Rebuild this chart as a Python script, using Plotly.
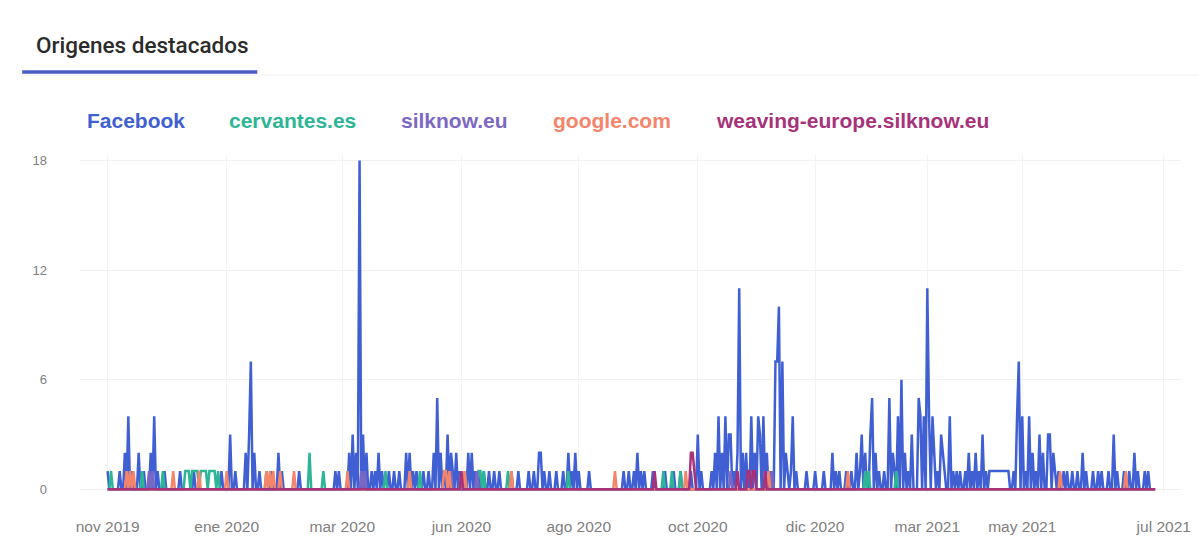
import pandas as pd
import plotly.graph_objects as go

# ---------------- data ----------------
start_date = "2019-11-01"
end_date = "2021-06-30"

series_names = ["Facebook", "cervantes.es", "silknow.eu", "google.com", "weaving-europe.silknow.eu"]
series_colors = ["#3f5fd3", "#2db596", "#7b68c4", "#f4846a", "#a8327a"]

# non-zero days of each series (all other days are 0)
facebook_points = [
    ("2019-11-01", 1), ("2019-11-08", 1), ("2019-11-11", 2), ("2019-11-13", 4), ("2019-11-15", 1),
    ("2019-11-19", 2), ("2019-11-22", 1), ("2019-11-26", 2), ("2019-11-28", 4), ("2019-11-30", 1),
    ("2019-12-04", 1), ("2019-12-13", 1), ("2019-12-21", 1),
    ("2020-01-06", 1), ("2020-01-11", 3), ("2020-01-14", 1), ("2020-01-20", 2), ("2020-01-22", 3),
    ("2020-01-23", 7), ("2020-01-25", 2), ("2020-01-28", 1),
    ("2020-02-04", 1), ("2020-02-08", 2), ("2020-02-10", 1), ("2020-02-20", 1),
    ("2020-03-12", 1), ("2020-03-14", 1), ("2020-03-20", 2), ("2020-03-22", 3), ("2020-03-24", 2),
    ("2020-03-26", 18), ("2020-03-28", 3), ("2020-03-30", 2),
    ("2020-04-02", 1), ("2020-04-04", 1), ("2020-04-06", 2), ("2020-04-08", 1), ("2020-04-12", 1),
    ("2020-04-15", 1), ("2020-04-18", 1), ("2020-04-22", 2), ("2020-04-24", 2), ("2020-04-26", 1),
    ("2020-04-28", 1),
    ("2020-05-02", 1), ("2020-05-05", 1), ("2020-05-08", 2), ("2020-05-10", 5), ("2020-05-12", 2),
    ("2020-05-14", 1), ("2020-05-16", 3), ("2020-05-18", 2), ("2020-05-19", 1), ("2020-05-21", 2),
    ("2020-05-23", 1), ("2020-05-26", 1), ("2020-05-28", 2), ("2020-05-30", 2),
    ("2020-06-01", 1), ("2020-06-03", 1), ("2020-06-06", 1), ("2020-06-09", 1), ("2020-06-12", 1),
    ("2020-06-15", 1), ("2020-06-22", 1), ("2020-06-26", 1),
    ("2020-07-02", 1), ("2020-07-05", 1), ("2020-07-08", 2), ("2020-07-09", 2), ("2020-07-11", 1),
    ("2020-07-14", 1), ("2020-07-18", 1), ("2020-07-22", 1), ("2020-07-25", 2), ("2020-07-27", 1),
    ("2020-07-29", 2), ("2020-07-31", 1),
    ("2020-08-06", 1), ("2020-08-26", 1), ("2020-08-29", 1),
    ("2020-09-01", 1), ("2020-09-03", 2), ("2020-09-05", 1), ("2020-09-07", 1), ("2020-09-12", 1),
    ("2020-09-19", 1), ("2020-09-24", 1), ("2020-09-28", 1),
    ("2020-10-04", 1), ("2020-10-08", 3), ("2020-10-10", 1), ("2020-10-16", 1), ("2020-10-18", 2),
    ("2020-10-20", 4), ("2020-10-22", 2), ("2020-10-24", 4), ("2020-10-26", 3), ("2020-10-27", 3),
    ("2020-10-29", 1), ("2020-10-31", 2),
    ("2020-11-01", 11), ("2020-11-03", 2), ("2020-11-05", 2), ("2020-11-08", 4), ("2020-11-10", 2),
    ("2020-11-12", 4), ("2020-11-13", 3), ("2020-11-15", 4), ("2020-11-17", 2), ("2020-11-19", 1),
    ("2020-11-22", 7), ("2020-11-23", 7), ("2020-11-24", 10), ("2020-11-26", 7), ("2020-11-28", 2),
    ("2020-11-29", 1),
    ("2020-12-01", 1), ("2020-12-02", 4), ("2020-12-04", 1), ("2020-12-10", 1), ("2020-12-15", 1),
    ("2020-12-20", 1), ("2020-12-25", 2), ("2020-12-27", 1), ("2020-12-29", 1),
    ("2021-01-02", 1), ("2021-01-05", 1), ("2021-01-08", 2), ("2021-01-10", 1), ("2021-01-11", 3),
    ("2021-01-13", 2), ("2021-01-16", 3), ("2021-01-17", 5), ("2021-01-19", 2), ("2021-01-21", 1),
    ("2021-01-24", 1), ("2021-01-27", 5), ("2021-01-29", 2), ("2021-01-30", 1),
    ("2021-02-01", 4), ("2021-02-03", 6), ("2021-02-05", 2), ("2021-02-07", 1), ("2021-02-09", 3),
    ("2021-02-13", 5), ("2021-02-14", 4), ("2021-02-16", 4), ("2021-02-18", 11), ("2021-02-19", 4),
    ("2021-02-21", 4), ("2021-02-22", 2), ("2021-02-24", 1), ("2021-02-26", 3), ("2021-02-27", 2),
    ("2021-02-28", 1),
    ("2021-03-03", 4), ("2021-03-05", 1), ("2021-03-07", 1), ("2021-03-09", 1), ("2021-03-12", 1),
    ("2021-03-14", 2), ("2021-03-16", 1), ("2021-03-18", 2), ("2021-03-20", 1), ("2021-03-22", 3),
    ("2021-03-24", 1), ("2021-03-26", 1), ("2021-03-27", 1), ("2021-03-28", 1), ("2021-03-29", 1),
    ("2021-03-30", 1), ("2021-03-31", 1),
    ("2021-04-01", 1), ("2021-04-02", 1), ("2021-04-03", 1), ("2021-04-04", 1), ("2021-04-05", 1),
    ("2021-04-06", 1), ("2021-04-09", 1), ("2021-04-11", 4), ("2021-04-12", 7), ("2021-04-14", 4),
    ("2021-04-16", 1), ("2021-04-18", 4), ("2021-04-20", 2), ("2021-04-22", 1), ("2021-04-24", 3),
    ("2021-04-26", 2), ("2021-04-29", 3), ("2021-04-30", 3),
    ("2021-05-02", 2), ("2021-05-03", 1), ("2021-05-05", 1), ("2021-05-08", 1), ("2021-05-10", 1),
    ("2021-05-13", 1), ("2021-05-16", 1), ("2021-05-19", 2), ("2021-05-21", 1), ("2021-05-25", 1),
    ("2021-05-28", 1), ("2021-05-30", 1),
    ("2021-06-03", 1), ("2021-06-06", 3), ("2021-06-08", 1), ("2021-06-12", 1), ("2021-06-15", 1),
    ("2021-06-18", 2), ("2021-06-20", 1), ("2021-06-24", 1), ("2021-06-26", 1),
]

cervantes_points = [
    ("2019-11-03", 1), ("2019-11-21", 1), ("2019-12-03", 1), ("2019-12-16", 1), ("2019-12-17", 1),
    ("2019-12-18", 1), ("2019-12-20", 1), ("2019-12-21", 1), ("2019-12-22", 1), ("2019-12-23", 1),
    ("2019-12-25", 1), ("2019-12-26", 1), ("2019-12-27", 1), ("2019-12-28", 1), ("2019-12-30", 1),
    ("2019-12-31", 1), ("2020-01-01", 1), ("2020-01-02", 1), ("2020-01-04", 1), ("2020-02-01", 1),
    ("2020-02-26", 2), ("2020-03-05", 1), ("2020-04-10", 1), ("2020-04-30", 1), ("2020-06-03", 1),
    ("2020-06-04", 1), ("2020-06-06", 1), ("2020-06-20", 1), ("2020-07-25", 1), ("2020-09-18", 1),
    ("2020-09-23", 1), ("2020-09-28", 1), ("2021-01-13", 1), ("2021-01-15", 1), ("2021-01-31", 1),
]

silknow_points = [
    ("2019-11-25", 1), ("2019-11-27", 1), ("2020-03-27", 1), ("2020-03-29", 1), ("2020-05-18", 1),
    ("2020-06-02", 1), ("2020-10-27", 1), ("2020-11-20", 1),
]

google_points = [
    ("2019-11-12", 1), ("2019-11-14", 1), ("2019-11-16", 1), ("2019-12-09", 1), ("2019-12-24", 1),
    ("2020-01-09", 1), ("2020-02-01", 1), ("2020-02-03", 1), ("2020-02-05", 1), ("2020-02-09", 1),
    ("2020-02-17", 1), ("2020-03-19", 1), ("2020-04-24", 1), ("2020-05-14", 1), ("2020-05-15", 1),
    ("2020-05-17", 1), ("2020-05-24", 1), ("2020-05-26", 1), ("2020-06-22", 1), ("2020-08-21", 1),
    ("2020-10-01", 1), ("2020-11-18", 1), ("2021-01-03", 1), ("2021-05-06", 1), ("2021-06-13", 1),
]

weaving_points = [
    ("2020-05-24", 1), ("2020-09-13", 1), ("2020-10-04", 2), ("2020-10-05", 2), ("2020-10-06", 1),
    ("2020-10-31", 1), ("2020-11-06", 1), ("2020-11-07", 1), ("2020-11-09", 1), ("2020-11-10", 1),
    ("2020-11-16", 1),
]

# x-axis labels as placed in the reference
tick_dates = ["2019-11-01", "2020-01-09", "2020-03-16", "2020-05-24", "2020-07-31",
              "2020-10-08", "2020-12-15", "2021-02-18", "2021-04-14", "2021-07-05"]
tick_labels = ["nov 2019", "ene 2020", "mar 2020", "jun 2020", "ago 2020",
               "oct 2020", "dic 2020", "mar 2021", "may 2021", "jul 2021"]
y_ticks = [0, 6, 12, 18]

title_text = "Origenes destacados"

# ---------------- build figure ----------------
days = pd.date_range(start_date, end_date, freq="D")


def daily(points):
    s = pd.Series({pd.Timestamp(d): v for d, v in points})
    return s.reindex(days, fill_value=0)


all_points = [facebook_points, cervantes_points, silknow_points, google_points, weaving_points]

fig = go.Figure()
for name, color, pts in zip(series_names, series_colors, all_points):
    s = daily(pts)
    fig.add_trace(go.Scatter(
        x=s.index, y=s.values, mode="lines", name=name,
        line=dict(color=color, width=2.5), showlegend=False,
    ))

# plot area geometry (pixels) used to position header items in paper coords
W, H = 1203, 551
ml, mr, mt, mb = 80, 18, 155, 58
pw, ph = W - ml - mr, H - mt - mb


def px(x):
    return (x - ml) / pw


def py(y):
    return (H - mb - y) / ph


annotations = []
legend_x = [85, 228, 400, 553, 716]
for name, color, lx in zip(series_names, series_colors, legend_x):
    annotations.append(dict(
        text=f"<b>{name}</b>", x=px(lx), y=py(121), xref="paper", yref="paper",
        xanchor="left", yanchor="middle", showarrow=False,
        font=dict(family="Liberation Sans, Arial, sans-serif", size=21, color=color),
    ))
annotations.append(dict(
    text=title_text, x=px(34), y=py(45), xref="paper", yref="paper",
    xanchor="left", yanchor="middle", showarrow=False,
    font=dict(family="Roboto, Arial, sans-serif", size=22.5, color="#2b2b2b", weight=500),
))

shapes = [
    dict(type="line", xref="paper", yref="paper", x0=px(22), x1=px(1203), y0=py(75), y1=py(75),
         line=dict(color="#f0f0f0", width=1)),
    dict(type="line", xref="paper", yref="paper", x0=px(22), x1=px(258), y0=py(72), y1=py(72),
         line=dict(color="#4a5cc4", width=3.5)),
]

fig.update_layout(
    width=W, height=H,
    margin=dict(l=ml, r=mr, t=mt, b=mb),
    paper_bgcolor="white", plot_bgcolor="white",
    font=dict(family="Liberation Sans, Arial, sans-serif", color="#757575"),
    annotations=annotations, shapes=shapes,
    xaxis=dict(
        type="date", range=["2019-10-16", "2021-07-15"],
        tickmode="array", tickvals=tick_dates, ticktext=tick_labels,
        showgrid=True, gridcolor="#f4f4f4", gridwidth=1, zeroline=False,
        showline=False, ticks="", tickfont=dict(size=15.5, color="#808080"),
        ticklabelstandoff=22,
    ),
    yaxis=dict(
        range=[-0.2, 18.3], tickmode="array", tickvals=y_ticks,
        showgrid=True, gridcolor="#f2f2f2", gridwidth=1, zeroline=False,
        showline=False, ticks="", tickfont=dict(size=13, color="#808080"),
        ticklabelstandoff=32,
    ),
)

fig.write_html("out.html", config={"displayModeBar": False},
               post_script="document.body.style.margin='0px';")
